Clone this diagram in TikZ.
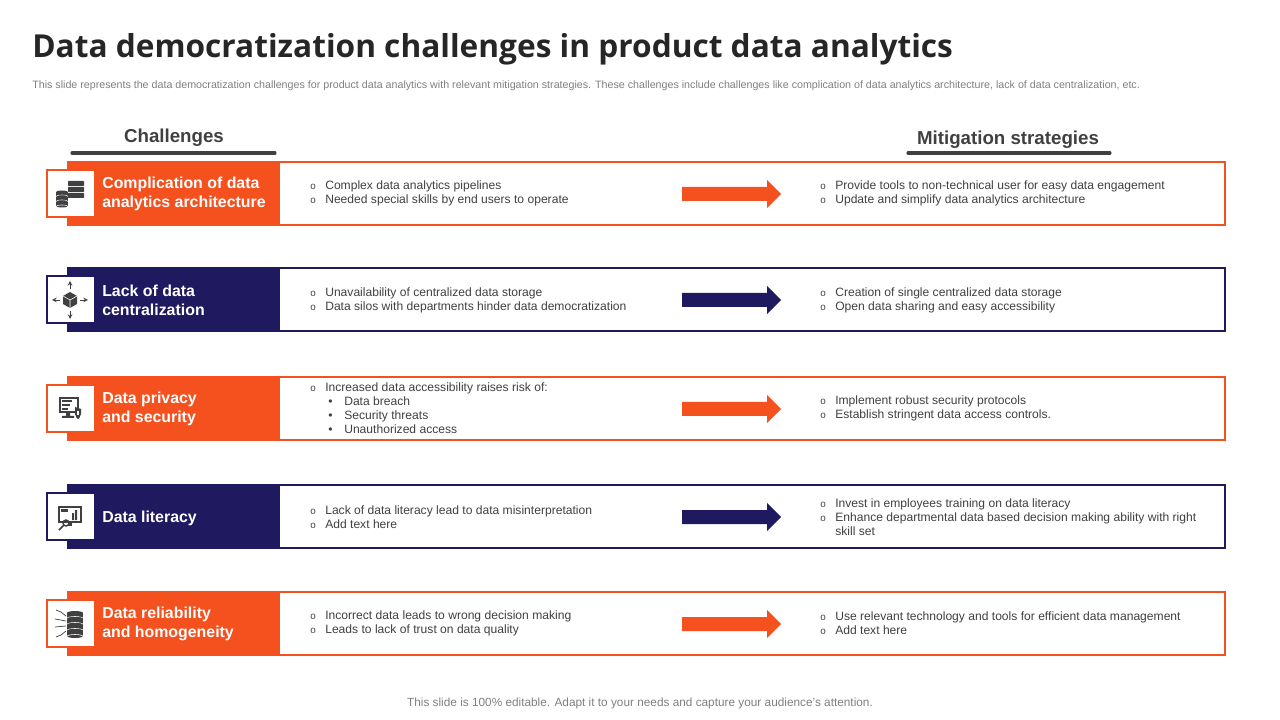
\documentclass[tikz,border=0pt]{standalone}
\usepackage{fontspec}
\setmainfont{Liberation Sans}
\newfontfamily\titlefont{Open Sans}
\usetikzlibrary{positioning}
\definecolor{dorange}{HTML}{F5511F}
\definecolor{dnavy}{HTML}{1F1960}
\definecolor{dgray}{HTML}{404040}
\definecolor{lgray}{HTML}{7F7F7F}

\newcommand\itm[1]{\makebox[0.375cm][l]{\fontsize{7}{7}\selectfont o}#1}
\newcommand\sitm[1]{\hspace*{0.45cm}\makebox[0.4cm][l]{\textbullet}#1}

\tikzset{
    lbl/.style={anchor=west,text=white,font=\bfseries\fontsize{11.3}{13.6}\selectfont,align=left,inner sep=0pt},
    body/.style={anchor=west,text=dgray,font=\fontsize{8.6}{9.9}\selectfont,align=left,inner sep=0pt},
    head/.style={text=dgray,font=\bfseries\fontsize{13.3}{16}\selectfont,inner sep=0pt},
    uline/.style={dgray,line width=2.2pt,line cap=round},
    ico/.style={fill=dgray,draw=none}
}

\begin{document}
\begin{tikzpicture}[x=0.025cm,y=-0.025cm]
    \useasboundingbox (0,0) rectangle (1280,720);

    % title and subtitle
    \node[anchor=base west,inner sep=0pt,text=black!85,font=\titlefont\bfseries\fontsize{22.5}{26}\selectfont] (title) at (32,58) {Data democratization challenges in product data analytics};
    \node[anchor=west,inner sep=0pt,text=lgray,font=\fontsize{7.6}{8.5}\selectfont] (subtitle) at (32,86) {This slide represents the data democratization challenges for product data analytics with relevant mitigation strategies. These challenges include challenges like complication of data analytics architecture, lack of data centralization, etc.};

    % column heads
    \node[head] (chal) at (174,138) {Challenges};
    \node[head] (miti) at (1008,140) {Mitigation strategies};
    \draw[uline] (72,153) -- (275,153);
    \draw[uline] (908,153) -- (1110,153);

    % row frames, colour blocks, icon boxes and arrows
    \foreach \y/\col in {162/dorange,268/dnavy,377/dorange,485/dnavy,592/dorange}{
        \draw[\col,line width=1.5pt] (68,\y) rectangle (1225,\y+63);
        \fill[\col] (68,\y) rectangle (280,\y+63);
        \draw[\col,line width=0.8pt,fill=white] (47,\y+8) rectangle (95,\y+55);
        \fill[\col] (682,\y+25) -- (767,\y+25) -- (767,\y+18) -- (781,\y+32) -- (767,\y+46) -- (767,\y+39) -- (682,\y+39) -- cycle;
    }

    % icon 1: databases
    \foreach \k in {0,1,2}{
        \fill[ico,rounded corners=0.5pt] (68,181+6*\k) rectangle (84,186+6*\k);
    }
    \foreach \k in {0,1,2}{
        \fill[ico] (56,192+5*\k) rectangle (68,196+5*\k);
        \fill[ico] (62,192+5*\k) ellipse (6 and 1.5);
        \fill[ico] (62,196+5*\k) ellipse (6 and 1.5);
        \draw[white,line width=0.4pt] (56,196.5+5*\k) arc (180:360:6 and 1.5);
    }

    % icon 2: cube with arrows
    \fill[ico] (70,292) -- (77,296) -- (77,304) -- (70,308) -- (63,304) -- (63,296) -- cycle;
    \draw[white,line width=0.4pt] (63,296) -- (70,300) -- (77,296) (70,300) -- (70,308);
    \draw[dgray,line width=0.5pt,-stealth] (70,289) -- (70,281);
    \draw[dgray,line width=0.5pt,-stealth] (70,311) -- (70,319);
    \draw[dgray,line width=0.5pt,-stealth] (60,300) -- (52,300);
    \draw[dgray,line width=0.5pt,-stealth] (80,300) -- (88,300);

    % icon 3: monitor with shield
    \draw[dgray,line width=1pt] (60,398) rectangle (78,412);
    \fill[ico] (62,400) rectangle (72,402);
    \fill[ico] (62,404) rectangle (70,406);
    \fill[ico] (62,408) rectangle (68,410);
    \fill[ico] (66,412) rectangle (70,416) (62,416) rectangle (74,418);
    \fill[ico] (75,407) -- (81,409) -- (81,414) .. controls (81,417) and (78,419) .. (78,419) .. controls (78,419) and (75,417) .. (75,414) -- cycle;
    \fill[white] (77,411) rectangle (79,415);

    % icon 4: monitor with chart and magnifier
    \draw[dgray,line width=1pt] (59,507) rectangle (81,522);
    \fill[ico] (61,509) rectangle (68,512);
    \fill[ico] (72,513) rectangle (74,520) (75,510) rectangle (77,520);
    \fill[ico] (68,522) rectangle (72,526);
    \draw[dgray,line width=1pt] (66,523) circle (3);
    \draw[dgray,line width=1.2pt] (64,525) -- (59,530);

    % icon 5: database with wires
    \foreach \k in {0,1,2,3}{
        \fill[ico] (67,613+6*\k) rectangle (83,618+6*\k);
        \fill[ico] (75,613+6*\k) ellipse (8 and 2);
        \fill[ico] (75,618+6*\k) ellipse (8 and 2);
        \draw[white,line width=0.4pt] (67,618.5+6*\k) arc (180:360:8 and 2);
    }
    \draw[dgray,line width=0.5pt] (66,616) -- (61,612) -- (56,610) (66,621) -- (55,619) (66,626) -- (55,627) (66,631) -- (61,635) -- (56,637);

    % challenge labels
    \node[lbl] (lbl1) at (102,194) {Complication of data\\analytics architecture};
    \node[lbl] (lbl2) at (102,300.5) {Lack of data\\centralization};
    \node[lbl] (lbl3) at (102,409) {Data privacy\\and security};
    \node[lbl] (lbl4) at (102,518) {Data literacy};
    \node[lbl] (lbl5) at (102,624) {Data reliability\\and homogeneity};

    % challenge details
    \node[body] (cause1) at (310,193.5) {\itm{Complex data analytics pipelines}\\\itm{Needed special skills by end users to operate}};
    \node[body] (cause2) at (310,300.5) {\itm{Unavailability of centralized data storage}\\\itm{Data silos with departments hinder data democratization}};
    \node[body] (cause3) at (310,408.5) {\itm{Increased data accessibility raises risk of:}\\\sitm{Data breach}\\\sitm{Security threats}\\\sitm{Unauthorized access}};
    \node[body] (cause4) at (310,517.5) {\itm{Lack of data literacy lead to data misinterpretation}\\\itm{Add text here}};
    \node[body] (cause5) at (310,623.5) {\itm{Incorrect data leads to wrong decision making}\\\itm{Leads to lack of trust on data quality}};

    % mitigation details
    \node[body] (fix1) at (820,193.5) {\itm{Provide tools to non-technical user for easy data engagement}\\\itm{Update and simplify data analytics architecture}};
    \node[body] (fix2) at (820,300.5) {\itm{Creation of single centralized data storage}\\\itm{Open data sharing and easy accessibility}};
    \node[body] (fix3) at (820,408.5) {\itm{Implement robust security protocols}\\\itm{Establish stringent data access controls.}};
    \node[body] (fix4) at (820,517.5) {\itm{Invest in employees training on data literacy}\\\itm{Enhance departmental data based decision making ability with right}\\\hspace*{0.375cm}skill set};
    \node[body] (fix5) at (820,623.5) {\itm{Use relevant technology and tools for efficient data management}\\\itm{Add text here}};

    % footer
    \node[inner sep=0pt,text=lgray,font=\fontsize{8.4}{10}\selectfont] (foot) at (640,703.5) {This slide is 100\% editable. Adapt it to your needs and capture your audience's attention.};
\end{tikzpicture}
\end{document}
